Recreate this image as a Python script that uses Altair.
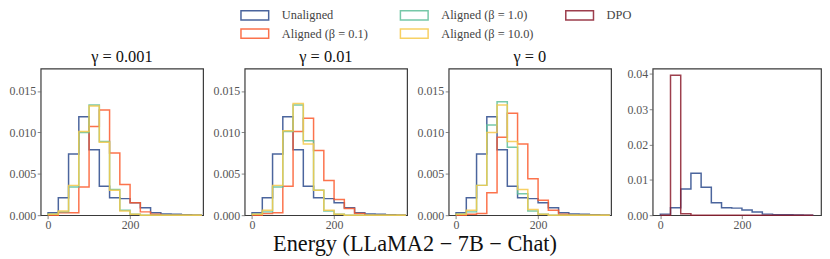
import altair as alt
import pandas as pd

# ---------------- data ----------------
BIN_EDGES = [0, 25, 50, 75, 100, 125, 150, 175, 200, 225, 250, 275, 300, 325, 350, 375]

SERIES = ["Unaligned", "Aligned (β = 0.1)", "Aligned (β = 1.0)", "Aligned (β = 10.0)", "DPO"]
COLORS = ["#2b4a8c", "#fb5a2d", "#5fbf9a", "#f6c94a", "#8c1d2e"]

PANEL_TITLES = ["γ = 0.001", "γ = 0.01", "γ = 0", ""]

UNALIGNED = [0.0003, 0.0021, 0.0074, 0.0119, 0.0079, 0.0035, 0.0021, 0.0020,
             0.0015, 0.0009, 0.0003, 0.00015, 0.0001, 0.00005, 0.0]

# gamma = 0.001
G1_B01 = [0.0, 0.0003, 0.0003, 0.0034, 0.0107, 0.0127, 0.0075, 0.0037,
          0.0015, 0.0004, 0.0001, 0.0, 0.0, 0.0, 0.0]
G1_B1 = [0.0001, 0.0004, 0.0034, 0.0100, 0.0133, 0.0089, 0.0031, 0.0006,
         0.0001, 0.0, 0.0, 0.0, 0.0, 0.0, 0.0]
G1_B10 = [0.0001, 0.0005, 0.0036, 0.0101, 0.0132, 0.0088, 0.0030, 0.0005,
          0.0001, 0.0, 0.0, 0.0, 0.0, 0.0, 0.0]

# gamma = 0.01
G2_B01 = [0.0, 0.0002, 0.0003, 0.0035, 0.0101, 0.0117, 0.0078, 0.0042,
          0.0019, 0.0008, 0.0002, 0.0, 0.0, 0.0, 0.0]
G2_B1 = [0.0001, 0.0004, 0.0034, 0.0101, 0.0133, 0.0090, 0.0030, 0.0005,
         0.0001, 0.0, 0.0, 0.0, 0.0, 0.0, 0.0]
G2_B10 = [0.0001, 0.0006, 0.0036, 0.0102, 0.0135, 0.0086, 0.0030, 0.0006,
          0.0001, 0.0, 0.0, 0.0, 0.0, 0.0, 0.0]

# gamma = 0
G3_B01 = [0.0, 0.0001, 0.0002, 0.0027, 0.0094, 0.0123, 0.0086, 0.0044,
          0.0018, 0.0006, 0.0001, 0.0, 0.0, 0.0, 0.0]
G3_B1 = [0.0001, 0.0004, 0.0036, 0.0109, 0.0137, 0.0082, 0.0026, 0.0005,
         0.0001, 0.0, 0.0, 0.0, 0.0, 0.0, 0.0]
G3_B10 = [0.0001, 0.0006, 0.0036, 0.0100, 0.0133, 0.0089, 0.0031, 0.0007,
          0.0001, 0.0, 0.0, 0.0, 0.0, 0.0, 0.0]

DPO = [0.0, 0.0396, 0.0004, 0.0, 0.0, 0.0, 0.0, 0.0,
       0.0, 0.0, 0.0, 0.0, 0.0, 0.0, 0.0]

PANELS = [
    {"Unaligned": UNALIGNED, "Aligned (β = 0.1)": G1_B01,
     "Aligned (β = 1.0)": G1_B1, "Aligned (β = 10.0)": G1_B10},
    {"Unaligned": UNALIGNED, "Aligned (β = 0.1)": G2_B01,
     "Aligned (β = 1.0)": G2_B1, "Aligned (β = 10.0)": G2_B10},
    {"Unaligned": UNALIGNED, "Aligned (β = 0.1)": G3_B01,
     "Aligned (β = 1.0)": G3_B1, "Aligned (β = 10.0)": G3_B10},
    {"Unaligned": UNALIGNED, "DPO": DPO},
]

Y_TICKS_A = [0, 0.005, 0.010, 0.015]
Y_TICKS_B = [0, 0.01, 0.02, 0.03, 0.04]
X_TICKS = [0, 200]

FONT = "Liberation Serif"


def step_rows(series, vals):
    rows = [{"series": series, "x": BIN_EDGES[0], "y": 0.0, "o": 0}]
    for i, v in enumerate(vals):
        rows.append({"series": series, "x": BIN_EDGES[i], "y": v, "o": i + 1})
    rows.append({"series": series, "x": BIN_EDGES[len(vals)], "y": 0.0, "o": len(vals) + 1})
    return rows


# legend fills column by column -> natural order gives the reference layout
color_scale = alt.Scale(domain=SERIES, range=COLORS)


def panel(idx, xdom, ydom, yticks, yfmt, width):
    layers = []
    for s in SERIES:
        if s not in PANELS[idx]:
            continue
        df = pd.DataFrame(step_rows(s, PANELS[idx][s]))
        layer = alt.Chart(df).mark_line(
            interpolate="step-after", strokeWidth=1.5, opacity=0.85
        ).encode(
            x=alt.X("x:Q", scale=alt.Scale(domain=xdom, nice=False, zero=False),
                    axis=alt.Axis(values=X_TICKS, format="d", title=None)),
            y=alt.Y("y:Q", scale=alt.Scale(domain=ydom, nice=False),
                    axis=alt.Axis(values=yticks, format=yfmt, title=None)),
            color=alt.Color("series:N", scale=color_scale, legend=alt.Legend(title=None)),
            order="o:Q",
        )
        layers.append(layer)
    props = dict(width=width, height=148)
    if PANEL_TITLES[idx]:
        props["title"] = alt.TitleParams(PANEL_TITLES[idx], font=FONT, fontSize=16.5,
                                         fontWeight="normal", color="#111", offset=3)
    return alt.layer(*layers).properties(**props)


p1 = panel(0, [-18, 378], [0, 0.0177], Y_TICKS_A, ".3f", 164)
p2 = panel(1, [-18, 378], [0, 0.0177], Y_TICKS_A, ".3f", 164)
p3 = panel(2, [-18, 378], [0, 0.0177], Y_TICKS_A, ".3f", 164)
p4 = panel(3, [-18.75, 393.75], [0, 0.0415], Y_TICKS_B, ".2f", 170)

chart = alt.hconcat(p1, p2, p3, p4, spacing=42, bounds="flush").properties(
    title=alt.TitleParams("Energy (LLaMA2 − 7B − Chat)", orient="bottom", anchor="middle",
                          font=FONT, fontSize=22.5, fontWeight="normal", color="#111", offset=2),
    padding={"left": 0, "top": 0, "right": 0, "bottom": 0},
).configure_view(
    stroke="#3a3a3a", strokeWidth=1.2
).configure_axis(
    grid=False, domain=False, tickColor="#666", tickSize=3.5, tickWidth=0.8,
    labelFont=FONT, labelFontSize=12, labelColor="#555"
).configure_axisY(
    labelPadding=1.5, minExtent=31, maxExtent=31
).configure_axisX(
    labelPadding=1
).configure_legend(
    orient="none", legendX=210, legendY=-60, columns=3,
    symbolType="M-3,-1H3V1H-3Z", symbolSize=87, symbolStrokeWidth=1.5,
    symbolFillColor="transparent", symbolOpacity=0.85,
    labelFont=FONT, labelFontSize=12.5, labelColor="#444", labelOffset=21,
    columnPadding=29, rowPadding=2.5
)

chart.save("out.html", embed_options={"renderer": "svg", "actions": False})
